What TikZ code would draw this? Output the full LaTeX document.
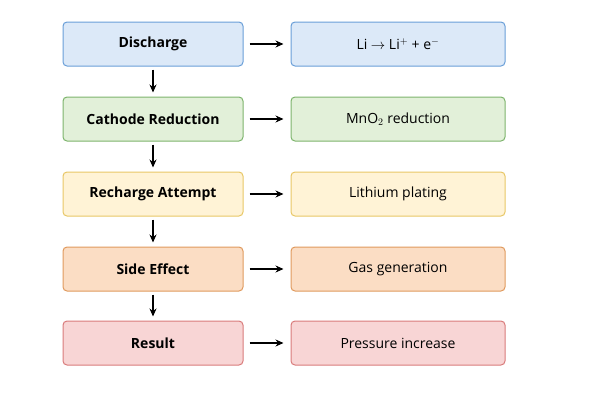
\documentclass[tikz,border=0pt]{standalone}
\usepackage{fontspec}
\setmainfont{Open Sans}
\usetikzlibrary{arrows.meta}
\definecolor{bF}{HTML}{DCE9F8}\definecolor{bD}{HTML}{6A9FD8}
\definecolor{gF}{HTML}{E2F0D9}\definecolor{gD}{HTML}{7DB46C}
\definecolor{yF}{HTML}{FFF3D6}\definecolor{yD}{HTML}{E8C766}
\definecolor{oF}{HTML}{FBDDC4}\definecolor{oD}{HTML}{E09A5E}
\definecolor{rF}{HTML}{F8D5D5}\definecolor{rD}{HTML}{D97B7B}
\begin{document}
\begin{tikzpicture}[x=1pt,y=-1pt,
 box/.style={draw=#1D,fill=#1F,line width=1pt,rounded corners=4pt,minimum height=44pt,inner sep=0pt,font=\fontsize{14}{16}\selectfont},
 L/.style={box=#1,minimum width=180pt,font=\fontsize{14}{16}\selectfont\bfseries},
 R/.style={box=#1,minimum width=214pt},
 arr/.style={-{Stealth[length=8pt,width=7pt]},line width=1.5pt,black}]
\useasboundingbox (0,0) rectangle (600,400);
\foreach \n/\c/\y/\a/\b in {1/b/44/Discharge/{Li $\rightarrow$ Li$^{+}$ + e$^{-}$},2/g/119/Cathode Reduction/{MnO$_2$ reduction},3/y/194/Recharge Attempt/Lithium plating,4/o/269/Side Effect/Gas generation,5/r/343/Result/Pressure increase}{
 \node[L=\c] (l\n) at (153,\y) {\a};
 \node[R=\c] (r\n) at (398,\y) {\b};
 \draw[arr] (l\n.east)++(6,0) -- ([xshift=-7pt]r\n.west);
}
\foreach \i/\j in {1/2,2/3,3/4,4/5}{\draw[arr] ([yshift=-3pt]l\i.south) -- ([yshift=4pt]l\j.north);}
\end{tikzpicture}
\end{document}
